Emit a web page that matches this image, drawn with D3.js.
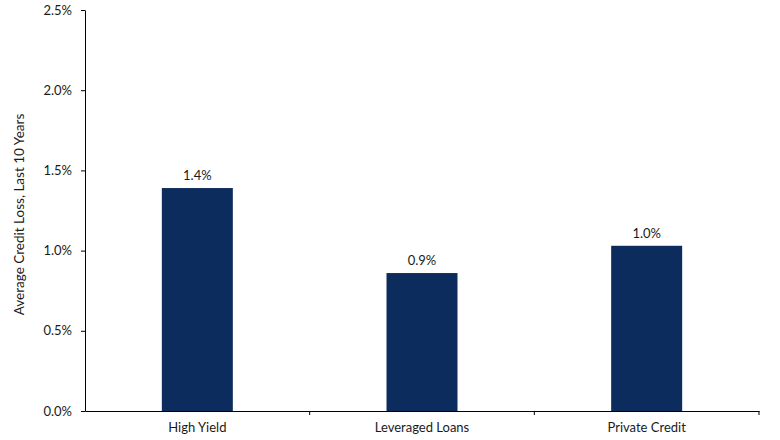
<!DOCTYPE html>
<html>
<head>
<meta charset="utf-8">
<script src="https://cdn.jsdelivr.net/npm/d3@7"></script>
<style>
  body { margin: 0; background: #fff; }
  svg text { font-family: Lato, "Open Sans", sans-serif; fill: #1a1a1a; }
  .axis path, .axis line { stroke: #000; }
</style>
</head>
<body>
<div id="chart"></div>
<script>
var categories = ["High Yield", "Leveraged Loans", "Private Credit"];
var lossValues = [1.39, 0.86, 1.03];
var yTicks = [0, 0.5, 1.0, 1.5, 2.0, 2.5];
var yLabel = "Average Credit Loss, Last 10 Years";

function drawBarChart() {
    var margin = {top: 10, right: 21, bottom: 29, left: 85};
    var width = 780 - margin.left - margin.right;
    var height = 440 - margin.top - margin.bottom;

    var svg = d3.select("#chart").append("svg")
        .attr("width", 780)
        .attr("height", 440)
        .append("g")
        .attr("transform", "translate(" + margin.left + "," + margin.top + ")");

    var data = categories.map(function(c, i) { return {name: c, value: lossValues[i]}; });

    var x = d3.scaleBand().domain(categories).range([0, width]).padding(0);
    var y = d3.scaleLinear().domain([0, 2.5]).range([height, 0]);
    var barW = x.bandwidth() * 0.316;

    svg.selectAll(".bar")
        .data(data)
        .enter().append("rect")
        .attr("class", "bar")
        .attr("x", function(d) { return x(d.name) + (x.bandwidth() - barW) / 2; })
        .attr("y", function(d) { return y(d.value); })
        .attr("width", barW)
        .attr("height", function(d) { return height - y(d.value); })
        .attr("fill", "#0b2c5d");

    svg.selectAll(".val")
        .data(data)
        .enter().append("text")
        .attr("class", "val")
        .attr("x", function(d) { return x(d.name) + x.bandwidth() / 2; })
        .attr("y", function(d) { return y(d.value) - 8; })
        .attr("text-anchor", "middle")
        .style("font-size", "13px")
        .text(function(d) { return d.value.toFixed(1) + "%"; });

    // y axis
    svg.append("g")
        .attr("class", "axis")
        .call(d3.axisLeft(y).tickValues(yTicks).tickSize(4).tickSizeOuter(0).tickPadding(9)
            .tickFormat(function(d) { return d.toFixed(1) + "%"; }))
        .selectAll("text")
        .style("font-size", "13px");

    // x axis: labels centred in bands, ticks on band edges
    var xAxis = svg.append("g")
        .attr("class", "axis")
        .attr("transform", "translate(0," + height + ")");
    xAxis.call(d3.axisBottom(x).tickSize(0).tickSizeOuter(0).tickPadding(12))
        .selectAll("text")
        .style("font-size", "13px");
    xAxis.selectAll(".edge")
        .data(categories)
        .enter().append("line")
        .attr("class", "edge")
        .attr("x1", function(d) { return x(d) + x.bandwidth(); })
        .attr("x2", function(d) { return x(d) + x.bandwidth(); })
        .attr("y1", 0)
        .attr("y2", 4)
        .attr("stroke", "#000");

    svg.append("text")
        .attr("transform", "rotate(-90)")
        .attr("x", -height / 2 - 4)
        .attr("y", -61)
        .attr("text-anchor", "middle")
        .style("font-size", "13.5px")
        .text(yLabel);
}

drawBarChart();
</script>
</body>
</html>
